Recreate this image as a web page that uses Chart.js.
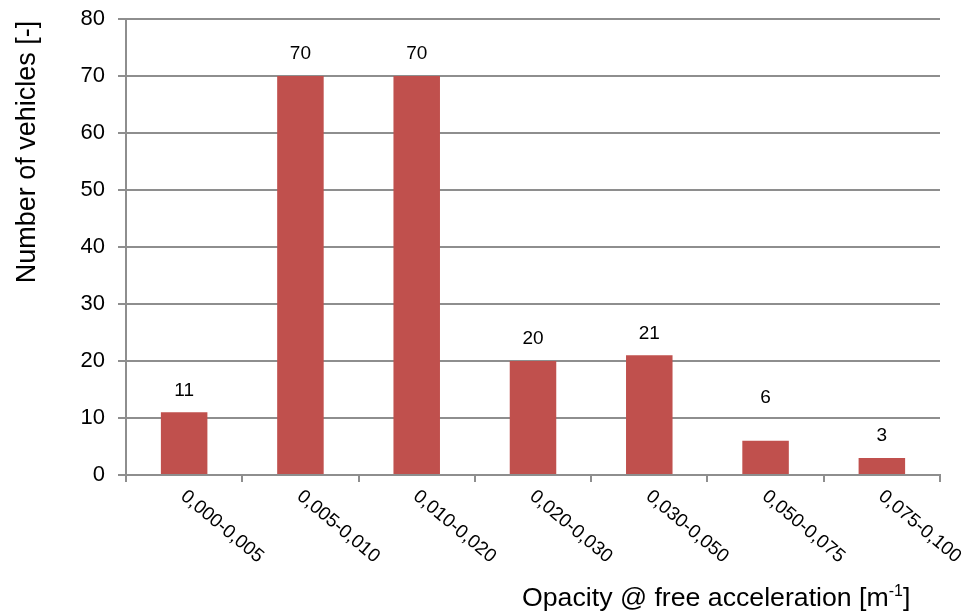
<!DOCTYPE html>
<html>
<head>
<meta charset="utf-8">
<script src="https://cdn.jsdelivr.net/npm/chart.js@4.4.1/dist/chart.umd.min.js"></script>
<style>
  html, body { margin: 0; padding: 0; background: #fff; }
  #wrap { width: 969px; height: 614px; position: relative; }
</style>
</head>
<body>
<div id="wrap"><canvas id="c" width="969" height="614"></canvas></div>
<script>
const categories = ["0,000-0,005", "0,005-0,010", "0,010-0,020", "0,020-0,030", "0,030-0,050", "0,050-0,075", "0,075-0,100"];
const vehicles = [11, 70, 70, 20, 21, 6, 3];
const yTicks = [0, 10, 20, 30, 40, 50, 60, 70, 80];
const yTitle = "Number of vehicles [-]";
const xTitleMain = "Opacity @ free acceleration [m";
const xTitleSup = "-1";
const xTitleEnd = "]";

const FONT = "'Liberation Sans', Arial, sans-serif";
const GRID = '#8e8e8e';

const customText = {
  id: 'customText',
  afterDraw(chart) {
    const ctx = chart.ctx;
    const xs = chart.scales.x;
    const meta = chart.getDatasetMeta(0);
    ctx.save();
    ctx.fillStyle = '#000';
    // data labels (the label of the 6th bar sits higher in the original)
    ctx.font = '19px ' + FONT;
    ctx.textAlign = 'center';
    ctx.textBaseline = 'middle';
    meta.data.forEach((bar, i) => {
      const lift = (i === 5) ? 43 : 22;
      ctx.fillText(String(vehicles[i]), bar.x, bar.y - lift);
    });
    // rotated category labels
    ctx.font = '19px ' + FONT;
    ctx.textAlign = 'left';
    ctx.textBaseline = 'middle';
    categories.forEach((lab, i) => {
      const cx = xs.getPixelForValue(i);
      ctx.save();
      ctx.translate(cx - 1, xs.top + 19);
      ctx.rotate(40 * Math.PI / 180);
      ctx.fillText(lab, 0, 0);
      ctx.restore();
    });
    // x title with superscript
    ctx.textAlign = 'left';
    ctx.textBaseline = 'alphabetic';
    let x = 522, y = 606;
    ctx.font = '26.7px ' + FONT;
    ctx.fillText(xTitleMain, x, y);
    x += ctx.measureText(xTitleMain).width;
    ctx.font = '16px ' + FONT;
    ctx.fillText(xTitleSup, x, y - 10);
    x += ctx.measureText(xTitleSup).width;
    ctx.font = '26.7px ' + FONT;
    ctx.fillText(xTitleEnd, x, y);
    // y title
    ctx.save();
    ctx.translate(35, 152);
    ctx.rotate(-Math.PI / 2);
    ctx.font = '27px ' + FONT;
    ctx.textAlign = 'center';
    ctx.textBaseline = 'alphabetic';
    ctx.fillText(yTitle, 0, 0);
    ctx.restore();
    ctx.restore();
  }
};

new Chart(document.getElementById('c'), {
  type: 'bar',
  data: {
    labels: categories,
    datasets: [{
      data: vehicles,
      backgroundColor: '#C0504D',
      borderWidth: 0,
      barPercentage: 0.4,
      categoryPercentage: 1.0
    }]
  },
  options: {
    responsive: false,
    animation: false,
    devicePixelRatio: 1,
    layout: { padding: { left: 0, right: 29, top: 19, bottom: 0 } },
    plugins: { legend: { display: false }, tooltip: { enabled: false } },
    scales: {
      x: {
        offset: true,
        grid: { display: true, drawOnChartArea: false, drawTicks: true, tickLength: 7, color: GRID, lineWidth: 2, offset: true },
        border: { display: true, color: GRID, width: 2 },
        ticks: { display: false },
        afterFit(scale) { scale.height = 139; scale.paddingLeft = 0; scale.paddingRight = 0; }
      },
      y: {
        min: 0, max: 80,
        afterBuildTicks(scale) { scale.ticks = yTicks.map(v => ({ value: v })); },
        grid: { color: GRID, lineWidth: 2, drawTicks: true, tickLength: 8 },
        border: { display: true, color: GRID, width: 2 },
        ticks: { font: { family: FONT, size: 22 }, color: '#000', padding: 13 },
        afterFit(scale) { scale.width = 126; scale.paddingTop = 0; scale.paddingBottom = 0; }
      }
    }
  },
  plugins: [customText]
});
</script>
</body>
</html>
